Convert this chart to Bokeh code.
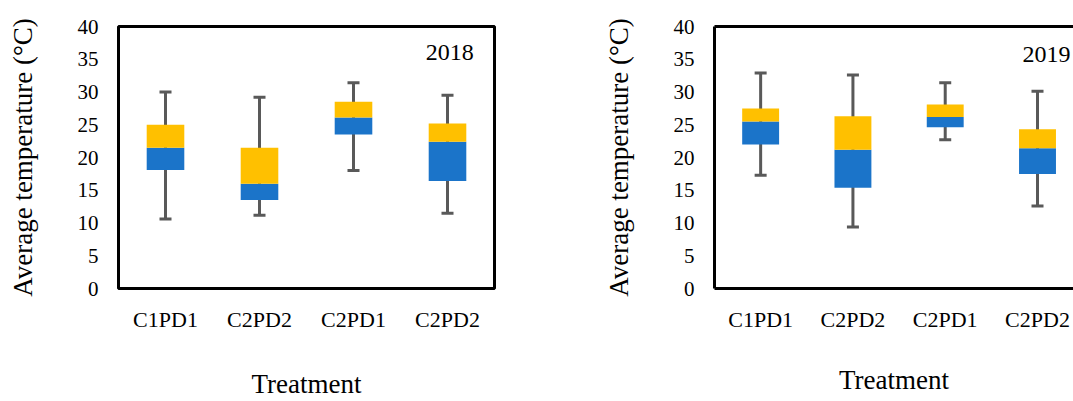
from bokeh.plotting import figure
from bokeh.models import (Range1d, FixedTicker, Label, Whisker, TeeHead,
                          ColumnDataSource, LinearAxis)
from bokeh.layouts import row
from bokeh.embed import file_html
from bokeh.resources import INLINE

# ---------------- data ----------------
categories = ["C1PD1", "C2PD2", "C2PD1", "C2PD2"]
y_ticks = [0, 5, 10, 15, 20, 25, 30, 35, 40]

# 2018
min_2018 = [10.6, 11.2, 18.0, 11.5]
q1_2018 = [18.1, 13.5, 23.5, 16.4]
med_2018 = [21.5, 16.0, 26.1, 22.4]
q3_2018 = [25.0, 21.5, 28.5, 25.2]
max_2018 = [30.0, 29.2, 31.4, 29.5]

# 2019
min_2019 = [17.3, 9.4, 22.7, 12.6]
q1_2019 = [22.0, 15.4, 24.6, 17.5]
med_2019 = [25.5, 21.2, 26.2, 21.4]
q3_2019 = [27.5, 26.3, 28.1, 24.3]
max_2019 = [32.9, 32.6, 31.4, 30.1]

FONT = "Liberation Serif"
BLUE = "#1B74C9"
YELLOW = "#FFC000"
GREY = "#595959"


def make_panel(year, mins, q1, med, q3, maxs, width, height, mb_left, mb_right,
               mb_top, mb_bottom, x_end, full_outline, year_x, year_y,
               x_title_standoff):
    xs = [i + 0.5 for i in range(len(categories))]
    src = ColumnDataSource(dict(x=xs, lo=mins, q1=q1, med=med, q3=q3, hi=maxs))

    p = figure(width=width, height=height, output_backend="svg",
               toolbar_location=None, x_range=Range1d(0, x_end),
               y_range=Range1d(0, 40), min_border_left=mb_left,
               min_border_right=mb_right, min_border_top=mb_top,
               min_border_bottom=mb_bottom)
    p.background_fill_color = "white"
    p.border_fill_color = "white"
    p.grid.visible = False

    if full_outline:
        p.outline_line_color = "black"
        p.outline_line_width = 3
        p.outline_line_alpha = 1.0
    else:
        p.outline_line_color = None

    w = Whisker(source=src, base="x", lower="lo", upper="hi",
                dimension="height", line_color=GREY, line_width=3,
                upper_head=TeeHead(size=12, line_color=GREY, line_width=3),
                lower_head=TeeHead(size=12, line_color=GREY, line_width=3),
                level="underlay")
    p.add_layout(w)

    p.vbar(x="x", width=0.4, bottom="q1", top="med", source=src,
           fill_color=BLUE, line_color=None)
    p.vbar(x="x", width=0.4, bottom="med", top="q3", source=src,
           fill_color=YELLOW, line_color=None)

    # x axis
    xa = p.xaxis[0]
    xa.ticker = FixedTicker(ticks=xs)
    xa.major_label_overrides = {x: c for x, c in zip(xs, categories)}
    xa.major_label_text_font = FONT
    xa.major_label_text_font_size = "22px"
    xa.major_label_text_color = "black"
    xa.major_label_standoff = 18
    xa.major_tick_line_color = None
    xa.minor_tick_line_color = None
    xa.major_tick_out = 0
    xa.major_tick_in = 0
    xa.axis_label = "Treatment"
    xa.axis_label_text_font = FONT
    xa.axis_label_text_font_size = "27px"
    xa.axis_label_text_font_style = "normal"
    xa.axis_label_text_color = "black"
    xa.axis_label_standoff = x_title_standoff

    # y axis
    ya = p.yaxis[0]
    ya.ticker = FixedTicker(ticks=y_ticks)
    ya.major_label_text_font = FONT
    ya.major_label_text_font_size = "21px"
    ya.major_label_text_color = "black"
    ya.major_label_standoff = 20
    ya.major_tick_line_color = None
    ya.minor_tick_line_color = None
    ya.major_tick_out = 0
    ya.major_tick_in = 0
    ya.axis_label = "Average temperature (°C)"
    ya.axis_label_text_font = FONT
    ya.axis_label_text_font_size = "27px"
    ya.axis_label_text_font_style = "normal"
    ya.axis_label_text_color = "black"
    ya.axis_label_standoff = 37

    if full_outline:
        xa.axis_line_color = None
        ya.axis_line_color = None
    else:
        xa.axis_line_color = "black"
        xa.axis_line_width = 3
        ya.axis_line_color = "black"
        ya.axis_line_width = 3
        top = LinearAxis(ticker=FixedTicker(ticks=[]),
                         major_label_text_font_size="0px",
                         major_tick_line_color=None,
                         minor_tick_line_color=None,
                         major_label_standoff=0,
                         axis_line_color="black", axis_line_width=3)
        p.add_layout(top, "above")

    p.add_layout(Label(x=year_x, y=year_y, text=year, text_font=FONT,
                       text_font_size="24px", text_color="black",
                       text_align="right", text_baseline="middle"))
    return p


p1 = make_panel("2018", min_2018, q1_2018, med_2018, q3_2018, max_2018,
                width=560, height=401, mb_left=118, mb_right=66, mb_top=26,
                mb_bottom=110, x_end=4.0, full_outline=True,
                year_x=3.78, year_y=36.0, x_title_standoff=34)
p2 = make_panel("2019", min_2019, q1_2019, med_2019, q3_2019, max_2019,
                width=513, height=401, mb_left=154, mb_right=0, mb_top=22,
                mb_bottom=105, x_end=3.89, full_outline=False,
                year_x=3.857, year_y=35.8, x_title_standoff=30)

layout = row(p1, p2)
open("out.html", "w").write(file_html(layout, INLINE))
